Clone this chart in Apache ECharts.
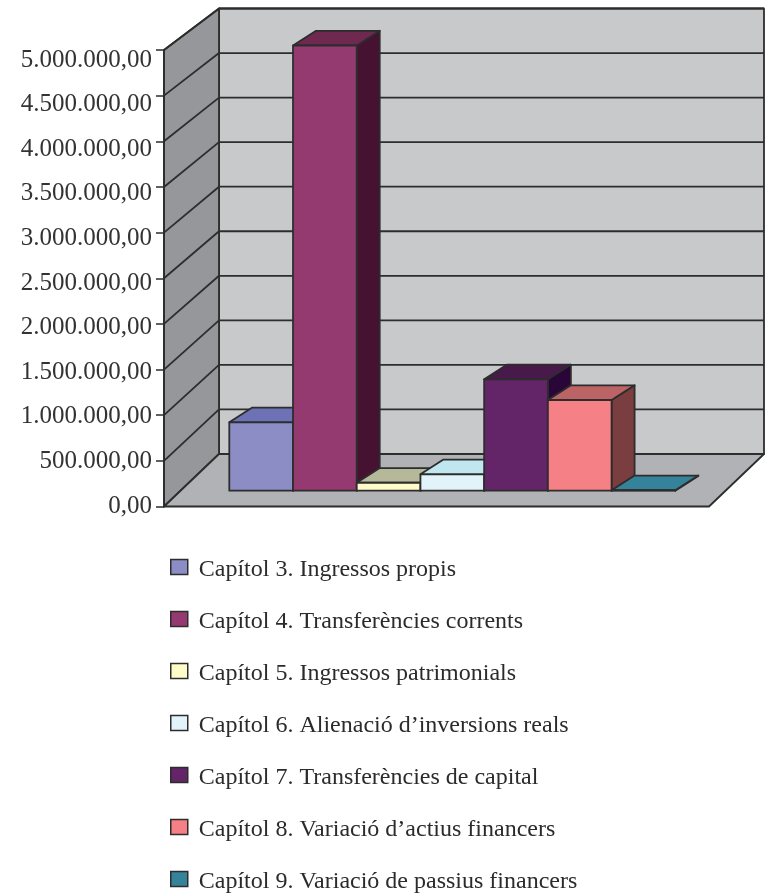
<!DOCTYPE html>
<html lang="ca">
<head>
    <meta charset="UTF-8">
    <title>Capítols</title>
    <style>
        html, body { margin: 0; padding: 0; background: #fff; }
        #chart1 { width: 766px; height: 894px; }
    </style>
</head>
<body>
<div id="chart1"></div>
<script src="https://cdn.jsdelivr.net/npm/echarts@6/dist/echarts.min.js"></script>
<script type="text/javascript">
    var categories = [
        'Capítol 3. Ingressos propis',
        'Capítol 4. Transferències corrents',
        'Capítol 5. Ingressos patrimonials',
        'Capítol 6. Alienació d’inversions reals',
        'Capítol 7. Transferències de capital',
        'Capítol 8. Variació d’actius financers',
        'Capítol 9. Variació de passius financers'
    ];
    var values = [764000, 4972000, 89000, 183000, 1244000, 1013000, 5000];
    var yTicks = [0, 500000, 1000000, 1500000, 2000000, 2500000, 3000000, 3500000, 4000000, 4500000, 5000000];
    var frontColors = ['#8b8dc4', '#953a70', '#fdfbc8', '#e2f3fa', '#632468', '#f58086', '#35829b'];
    var topColors = ['#6c72b5', '#6f2850', '#b5b99a', '#c0e6ef', '#471a4b', '#bc6366', '#35829b'];
    var sideColors = ['#5a5f96', '#461231', '#8f9274', '#8fb4bc', '#2a0537', '#7a3d40', '#24596a'];

    var LINE = '#2d2d2d';
    var yMax = 5000000;
    // depth of the box and of the bars, in pixels
    var wallDx = 55, wallDy = -52.5, wallShrink = 11;
    var barDx = 23, barDy = -14.7;

    function fmt(v) {
        var s = String(v).replace(/\B(?=(\d{3})+$)/g, '.');
        return s + ',00';
    }

    function renderFloorWalls(params, api) {
        var a = api.coord([0, 0]), b = api.coord([1, 0]), c = api.coord([0, yMax]);
        var tx = wallDx, by = wallDy, ty = wallDy + wallShrink;
        var style = function (fill) { return {fill: fill, stroke: LINE, lineWidth: 1.8, lineJoin: 'round'}; };
        return {
            type: 'group',
            children: [
                {type: 'polygon', shape: {points: [[a[0] + tx, a[1] + by], [b[0] + tx, b[1] + by], [b[0] + tx, c[1] + ty], [a[0] + tx, c[1] + ty]]}, style: style('#c8c9cb')},
                {type: 'polygon', shape: {points: [a, [a[0] + tx, a[1] + by], [a[0] + tx, c[1] + ty], c]}, style: style('#96979b')},
                {type: 'polygon', shape: {points: [a, b, [b[0] + tx, b[1] + by], [a[0] + tx, a[1] + by]]}, style: style('#b1b2b6')}
            ]
        };
    }

    function renderGridLine(params, api) {
        var v = api.value(0);
        var p = api.coord([0, v]), q = api.coord([1, v]);
        var dy = wallDy + wallShrink * v / yMax;
        var st = {stroke: LINE, lineWidth: 1.8};
        return {
            type: 'group',
            children: [
                {type: 'line', shape: {x1: p[0], y1: p[1], x2: p[0] + wallDx, y2: p[1] + dy}, style: st},
                {type: 'line', shape: {x1: p[0] + wallDx, y1: p[1] + dy, x2: q[0] + wallDx, y2: p[1] + dy}, style: st}
            ]
        };
    }

    function renderBar(params, api) {
        var i = api.value(0);
        var top = api.coord([i, api.value(1)]);
        var base = api.coord([i, 0]);
        var w = api.size([1, 0])[0];
        var l = top[0] - w / 2, r = l + w, t = top[1], b = base[1];
        var st = function (fill) { return {fill: fill, stroke: LINE, lineWidth: 1.8, lineJoin: 'round'}; };
        return {
            type: 'group',
            children: [
                {type: 'polygon', shape: {points: [[r, t], [r + barDx, t + barDy], [r + barDx, b + barDy], [r, b]]}, style: st(sideColors[i])},
                {type: 'polygon', shape: {points: [[l, t], [r, t], [r + barDx, t + barDy], [l + barDx, t + barDy]]}, style: st(topColors[i])},
                {type: 'polygon', shape: {points: [[l, t], [r, t], [r, b], [l, b]]}, style: st(frontColors[i])}
            ]
        };
    }

    var series = [
        {type: 'custom', xAxisIndex: 0, yAxisIndex: 0, z: 1, silent: true, data: [[0]], renderItem: renderFloorWalls},
        {type: 'custom', xAxisIndex: 0, yAxisIndex: 0, z: 2, silent: true, data: yTicks.slice(1).map(function (v) { return [v]; }), renderItem: renderGridLine}
    ];
    categories.forEach(function (name, i) {
        series.push({
            name: name,
            type: 'custom',
            xAxisIndex: 1,
            yAxisIndex: 1,
            z: 3 + i,
            silent: true,
            itemStyle: {color: frontColors[i]},
            data: [[i, values[i]]],
            encode: {x: 0, y: 1},
            renderItem: renderBar
        });
    });

    var chart1 = echarts.init(document.getElementById('chart1'), null, {renderer: 'canvas'});
    chart1.setOption({
        animation: false,
        backgroundColor: '#fff',
        legend: {
            data: categories,
            orient: 'vertical',
            left: 170,
            top: 558,
            padding: 0,
            width: 590,
            height: 336,
            itemWidth: 17,
            itemHeight: 15,
            itemGap: 28,
            icon: 'rect',
            selectedMode: false,
            itemStyle: {borderColor: LINE, borderWidth: 1.5},
            formatter: function (name) { return '{a|' + name + '}'; },
            textStyle: {
                rich: {
                    a: {fontFamily: '"Liberation Serif"', fontSize: 24, color: '#2b2b2b', padding: [6, 0, 0, 6]}
                }
            }
        },
        grid: [
            {left: 164, top: 50, width: 545, height: 456.5},
            {left: 229.3, top: 43, width: 446, height: 447.7},
            {left: 152, top: 60, width: 10, height: 446}
        ],
        xAxis: [
            {type: 'value', gridIndex: 0, min: 0, max: 1, show: false},
            {type: 'category', gridIndex: 1, data: categories, show: false},
            {type: 'value', gridIndex: 2, min: 0, max: 1, show: false}
        ],
        yAxis: [
            {
                type: 'value', gridIndex: 0, min: 0, max: yMax, interval: 500000, z: 20,
                axisLine: {show: true, lineStyle: {color: LINE, width: 1.8}},
                axisTick: {show: true, inside: false, length: 8, lineStyle: {color: LINE, width: 1.5}},
                axisLabel: {show: false},
                splitLine: {show: false}
            },
            {type: 'value', gridIndex: 1, min: 0, max: yMax, show: false},
            {
                type: 'value', gridIndex: 2, min: 0, max: yMax, interval: 500000,
                axisLine: {show: false},
                axisTick: {show: false},
                splitLine: {show: false},
                axisLabel: {
                    margin: 0,
                    fontFamily: '"Liberation Serif"',
                    fontSize: 25,
                    color: '#333',
                    formatter: fmt
                }
            }
        ],
        series: series
    });
</script>
</body>
</html>
